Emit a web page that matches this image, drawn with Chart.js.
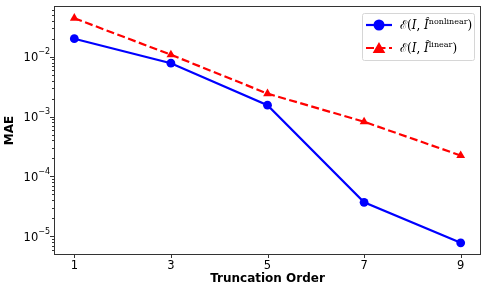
<!DOCTYPE html>
<html>
<head>
<meta charset="utf-8">
<script src="https://cdn.jsdelivr.net/npm/chart.js@4.4.1/dist/chart.umd.min.js"></script>
<style>
  html, body { margin: 0; padding: 0; background: #fff; }
</style>
</head>
<body>
<canvas id="chart" width="488" height="293"></canvas>
<script>
// truncation orders and the two MAE series
const orders = [1, 3, 5, 7, 9];
const maeNonlinear = [0.020, 0.0078, 0.00155, 3.7e-5, 7.8e-6];
const maeLinear = [0.044, 0.0108, 0.00242, 8.2e-4, 2.24e-4];
const xTicks = [1, 3, 5, 7, 9];
const yTicks = [1e-5, 1e-4, 1e-3, 1e-2];
// base and exponent of each y tick label
const yTickLabels = [['10', '\u22125'], ['10', '\u22124'], ['10', '\u22123'], ['10', '\u22122']];
const legendSup = ['nonlinear', 'linear'];

const BLUE = '#0000ff';
const RED = '#ff0000';

function pts(ys) {
    return orders.map((x, i) => ({ x: x, y: ys[i] }));
}

// full box + outward tick marks (major and minor) like matplotlib
const framePlugin = {
    id: 'frame',
    afterDraw(chart) {
        const ctx = chart.ctx;
        const a = chart.chartArea;
        const xs = chart.scales.x, ys = chart.scales.y;
        ctx.save();
        ctx.strokeStyle = '#333';
        ctx.lineWidth = 1;
        ctx.strokeRect(a.left - 0.5, a.top - 0.5, a.right - a.left + 1, a.bottom - a.top + 1);
        ctx.beginPath();
        xTicks.forEach(v => {
            const px = Math.round(xs.getPixelForValue(v)) + 0.5;
            ctx.moveTo(px, a.bottom); ctx.lineTo(px, a.bottom + 4);
        });
        for (let d = -6; d <= -1; d++) {
            for (let k = 1; k <= 9; k++) {
                const v = k * Math.pow(10, d);
                if (v < ys.min || v > ys.max) continue;
                const py = Math.round(ys.getPixelForValue(v)) + 0.5;
                const len = k === 1 ? 4 : 2;
                ctx.moveTo(a.left - len - 1, py); ctx.lineTo(a.left - 1, py);
            }
        }
        ctx.stroke();

        // y tick labels with a real superscript exponent
        ctx.fillStyle = '#000';
        ctx.textBaseline = 'alphabetic';
        ctx.textAlign = 'left';
        yTicks.forEach((v, i) => {
            const py = ys.getPixelForValue(v);
            const [b, e] = yTickLabels[i];
            ctx.font = '8px "DejaVu Sans"';
            const ew = ctx.measureText(e).width;
            ctx.font = '11.5px "DejaVu Sans"';
            const bw = ctx.measureText(b).width;
            const right = a.left - 5;
            ctx.fillText(b, right - ew - bw, py + 4.3);
            ctx.font = '8px "DejaVu Sans"';
            ctx.fillText(e, right - ew, py - 2.3);
        });
        ctx.restore();
        drawLegend(chart);
    }
};

function drawLegend(chart) {
    const ctx = chart.ctx;
    const bx = 362, by = 13, bw = 112, bh = 47;
    ctx.save();
    ctx.fillStyle = 'rgba(255,255,255,0.85)';
    ctx.strokeStyle = '#d6d6d6';
    ctx.lineWidth = 1;
    ctx.beginPath();
    ctx.roundRect(bx + 0.5, by + 0.5, bw, bh, 2);
    ctx.fill();
    ctx.stroke();

    chart.data.datasets.forEach((ds, i) => {
        const cy = by + 12 + i * 23;
        ctx.strokeStyle = ds.borderColor;
        ctx.lineWidth = 2.2;
        ctx.setLineDash(ds.borderDash || []);
        ctx.beginPath();
        ctx.moveTo(bx + 4, cy); ctx.lineTo(bx + 30, cy);
        ctx.stroke();
        ctx.setLineDash([]);
        Chart.helpers.drawPoint(ctx, {
            pointStyle: ds.pointStyle, radius: ds.pointRadius, borderWidth: 1, rotation: 0
        }, bx + 17, cy + (ds.pointStyle === 'triangle' ? 1.3 : 0));
        ctx.fillStyle = ds.borderColor;
        ctx.fill();

        // label: E(I, I^sup)
        ctx.fillStyle = '#000';
        ctx.textBaseline = 'alphabetic';
        let x = bx + 38;
        const base = cy + 4;
        const parts = [
            ['\u2130(', '12px "DejaVu Serif"', 0],
            ['I', 'italic 12px "DejaVu Serif"', 0],
            [', ', '12px "DejaVu Serif"', 0],
            ['I\u0302', 'italic 12px "DejaVu Serif"', 0],
            [legendSup[i], '8px "DejaVu Serif"', -5],
            [')', '12px "DejaVu Serif"', 0]
        ];
        parts.forEach(p => {
            ctx.font = p[1];
            ctx.fillText(p[0], x, base + p[2]);
            x += ctx.measureText(p[0]).width;
        });
    });
    ctx.restore();
}

const ctx = document.getElementById('chart').getContext('2d');

new Chart(ctx, {
    type: 'line',
    data: {
        datasets: [
            {
                label: 'nonlinear',
                data: pts(maeNonlinear),
                borderColor: BLUE,
                backgroundColor: BLUE,
                borderWidth: 2.2,
                pointStyle: 'circle',
                pointRadius: 4.4,
                pointBorderWidth: 0,
                pointBackgroundColor: BLUE,
                tension: 0
            },
            {
                label: 'linear',
                data: pts(maeLinear),
                borderColor: RED,
                backgroundColor: RED,
                borderWidth: 2.2,
                borderDash: [8, 3.5],
                pointStyle: 'triangle',
                pointRadius: 5.1,
                pointBorderWidth: 0,
                pointBackgroundColor: RED,
                tension: 0
            }
        ]
    },
    options: {
        responsive: false,
        animation: false,
        devicePixelRatio: 1,
        layout: { padding: { left: 0, top: 7, right: 8, bottom: 0 } },
        plugins: {
            legend: { display: false },
            tooltip: { enabled: false }
        },
        scales: {
            x: {
                type: 'linear',
                min: 0.6,
                max: 9.4,
                afterBuildTicks: s => { s.ticks = xTicks.map(v => ({ value: v })); },
                afterFit: s => { s.height = 39; s.paddingLeft = 0; s.paddingRight = 0; },
                grid: { display: false, drawTicks: false },
                border: { display: false },
                ticks: {
                    padding: 5,
                    color: '#000',
                    font: { family: 'DejaVu Sans', size: 11.5 },
                    maxRotation: 0,
                    callback: v => String(v)
                },
                title: {
                    display: true,
                    text: 'Truncation Order',
                    color: '#000',
                    font: { family: 'DejaVu Sans', size: 12, weight: 'bold' },
                    padding: { top: 0, bottom: 7 }
                }
            },
            y: {
                type: 'logarithmic',
                min: 5.07e-6,
                max: 0.0677,
                afterBuildTicks: s => { s.ticks = yTicks.map(v => ({ value: v })); },
                afterFit: s => { s.width = 55; s.paddingTop = 0; s.paddingBottom = 0; },
                grid: { display: false, drawTicks: false },
                border: { display: false },
                ticks: { display: false },
                title: {
                    display: true,
                    text: 'MAE',
                    color: '#000',
                    font: { family: 'DejaVu Sans', size: 12, weight: 'bold' },
                    padding: { top: 3, bottom: 0 }
                }
            }
        }
    },
    plugins: [framePlugin]
});
</script>
</body>
</html>
